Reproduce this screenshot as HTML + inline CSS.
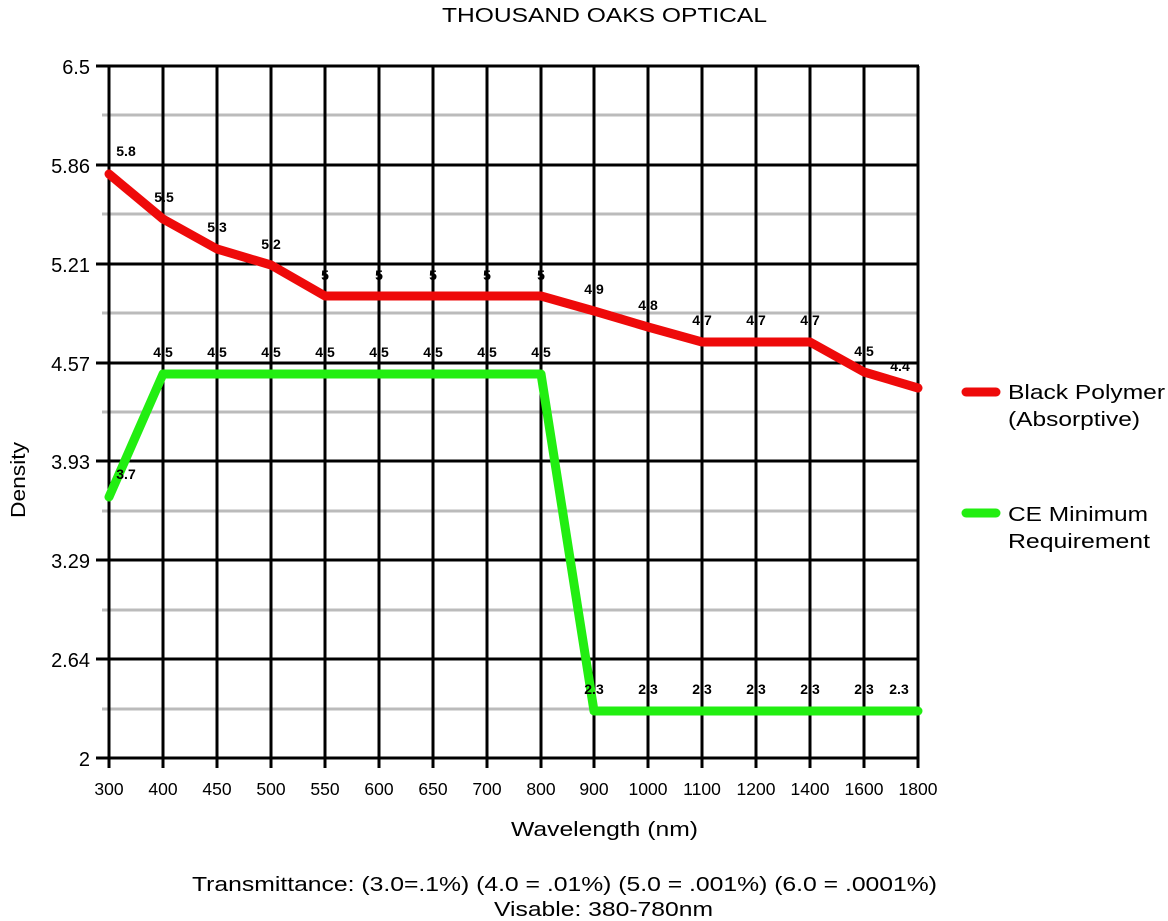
<!DOCTYPE html>
<html><head><meta charset="utf-8"><style>
body{margin:0;background:#fff;}
svg{display:block;font-family:"Liberation Sans",Arial,sans-serif;}
.v{font-size:14px;font-weight:bold;fill:#000;text-anchor:middle;}
.t{font-size:19px;fill:#000;}
</style></head><body>
<svg width="1168" height="921" viewBox="0 0 1168 921">
<text x="442" y="22" font-size="20" textLength="325" lengthAdjust="spacingAndGlyphs">THOUSAND OAKS OPTICAL</text>
<g stroke="#bbb" stroke-width="3">
<line x1="102" y1="115" x2="918" y2="115"/><line x1="102" y1="214" x2="918" y2="214"/><line x1="102" y1="313" x2="918" y2="313"/><line x1="102" y1="412" x2="918" y2="412"/><line x1="102" y1="511" x2="918" y2="511"/><line x1="102" y1="610" x2="918" y2="610"/><line x1="102" y1="709" x2="918" y2="709"/>
</g>
<g stroke="#000" stroke-width="3">
<line x1="96" y1="66" x2="919" y2="66"/><line x1="96" y1="165" x2="919" y2="165"/><line x1="96" y1="264" x2="919" y2="264"/><line x1="96" y1="363" x2="919" y2="363"/><line x1="96" y1="461" x2="919" y2="461"/><line x1="96" y1="560" x2="919" y2="560"/><line x1="96" y1="659" x2="919" y2="659"/><line x1="96" y1="758" x2="919" y2="758"/>
<line x1="109" y1="66" x2="109" y2="768"/><line x1="163" y1="66" x2="163" y2="768"/><line x1="217" y1="66" x2="217" y2="768"/><line x1="271" y1="66" x2="271" y2="768"/><line x1="325" y1="66" x2="325" y2="768"/><line x1="379" y1="66" x2="379" y2="768"/><line x1="433" y1="66" x2="433" y2="768"/><line x1="487" y1="66" x2="487" y2="768"/><line x1="541" y1="66" x2="541" y2="768"/><line x1="594" y1="66" x2="594" y2="768"/><line x1="648" y1="66" x2="648" y2="768"/><line x1="702" y1="66" x2="702" y2="768"/><line x1="756" y1="66" x2="756" y2="768"/><line x1="810" y1="66" x2="810" y2="768"/><line x1="864" y1="66" x2="864" y2="768"/><line x1="918" y1="66" x2="918" y2="768"/>
</g>
<g class="t" text-anchor="end" font-size="20" style="font-size:20px">
<text x="90" y="74">6.5</text><text x="90" y="173">5.86</text><text x="90" y="272">5.21</text><text x="90" y="371">4.57</text><text x="90" y="469">3.93</text><text x="90" y="568">3.29</text><text x="90" y="667">2.64</text><text x="90" y="766">2</text>
</g>
<g class="t" text-anchor="middle" style="font-size:17.5px">
<text x="109" y="795">300</text><text x="163" y="795">400</text><text x="217" y="795">450</text><text x="271" y="795">500</text><text x="325" y="795">550</text><text x="379" y="795">600</text><text x="433" y="795">650</text><text x="487" y="795">700</text><text x="541" y="795">800</text><text x="594" y="795">900</text><text x="648" y="795">1000</text><text x="702" y="795">1100</text><text x="756" y="795">1200</text><text x="810" y="795">1400</text><text x="864" y="795">1600</text><text x="918" y="795">1800</text>
</g>
<text x="511" y="836" font-size="20" textLength="187" lengthAdjust="spacingAndGlyphs">Wavelength (nm)</text>
<text x="18" y="480" font-size="20" text-anchor="middle" transform="rotate(-90 18 480)" dy="7" textLength="76" lengthAdjust="spacingAndGlyphs">Density</text>
<polyline fill="none" stroke="#22ee11" stroke-width="9" stroke-linejoin="round" stroke-linecap="round" points="109,497 163,374 217,374 271,374 325,374 379,374 433,374 487,374 541,374 594,711 648,711 702,711 756,711 810,711 864,711 918,711"/>
<polyline fill="none" stroke="#ee0a0a" stroke-width="9" stroke-linejoin="round" stroke-linecap="round" points="109,174 163,219 217,249 271,265 325,296 379,296 433,296 487,296 541,296 594,311 648,327 702,342 756,342 810,342 864,372 918,388"/>
<g class="v">
<text x="126" y="156">5.8</text><text x="164" y="202">5.5</text><text x="217" y="232">5.3</text><text x="271" y="249">5.2</text><text x="325" y="280">5</text><text x="379" y="280">5</text><text x="433" y="280">5</text><text x="487" y="280">5</text><text x="541" y="280">5</text><text x="594" y="294">4.9</text><text x="648" y="310">4.8</text><text x="702" y="325">4.7</text><text x="756" y="325">4.7</text><text x="810" y="325">4.7</text><text x="864" y="356">4.5</text><text x="900" y="371">4.4</text>
<text x="126" y="479">3.7</text><text x="163" y="357">4.5</text><text x="217" y="357">4.5</text><text x="271" y="357">4.5</text><text x="325" y="357">4.5</text><text x="379" y="357">4.5</text><text x="433" y="357">4.5</text><text x="487" y="357">4.5</text><text x="541" y="357">4.5</text><text x="594" y="694">2.3</text><text x="648" y="694">2.3</text><text x="702" y="694">2.3</text><text x="756" y="694">2.3</text><text x="810" y="694">2.3</text><text x="864" y="694">2.3</text><text x="899" y="694">2.3</text>
</g>
<line x1="966" y1="392" x2="996" y2="392" stroke="#ee0a0a" stroke-width="9" stroke-linecap="round"/>
<text x="1008" y="399" font-size="20" textLength="157" lengthAdjust="spacingAndGlyphs">Black Polymer</text><text x="1008" y="426" font-size="20" textLength="132" lengthAdjust="spacingAndGlyphs">(Absorptive)</text>
<line x1="966" y1="513" x2="996" y2="513" stroke="#22ee11" stroke-width="9" stroke-linecap="round"/>
<text x="1008" y="521" font-size="20" textLength="140" lengthAdjust="spacingAndGlyphs">CE Minimum</text><text x="1008" y="548" font-size="20" textLength="142" lengthAdjust="spacingAndGlyphs">Requirement</text>
<text x="192" y="891" font-size="20" textLength="745" lengthAdjust="spacingAndGlyphs">Transmittance: (3.0=.1%) (4.0 = .01%) (5.0 = .001%) (6.0 = .0001%)</text>
<text x="494" y="916" font-size="20" textLength="219" lengthAdjust="spacingAndGlyphs">Visable: 380-780nm</text>
</svg>
</body></html>
